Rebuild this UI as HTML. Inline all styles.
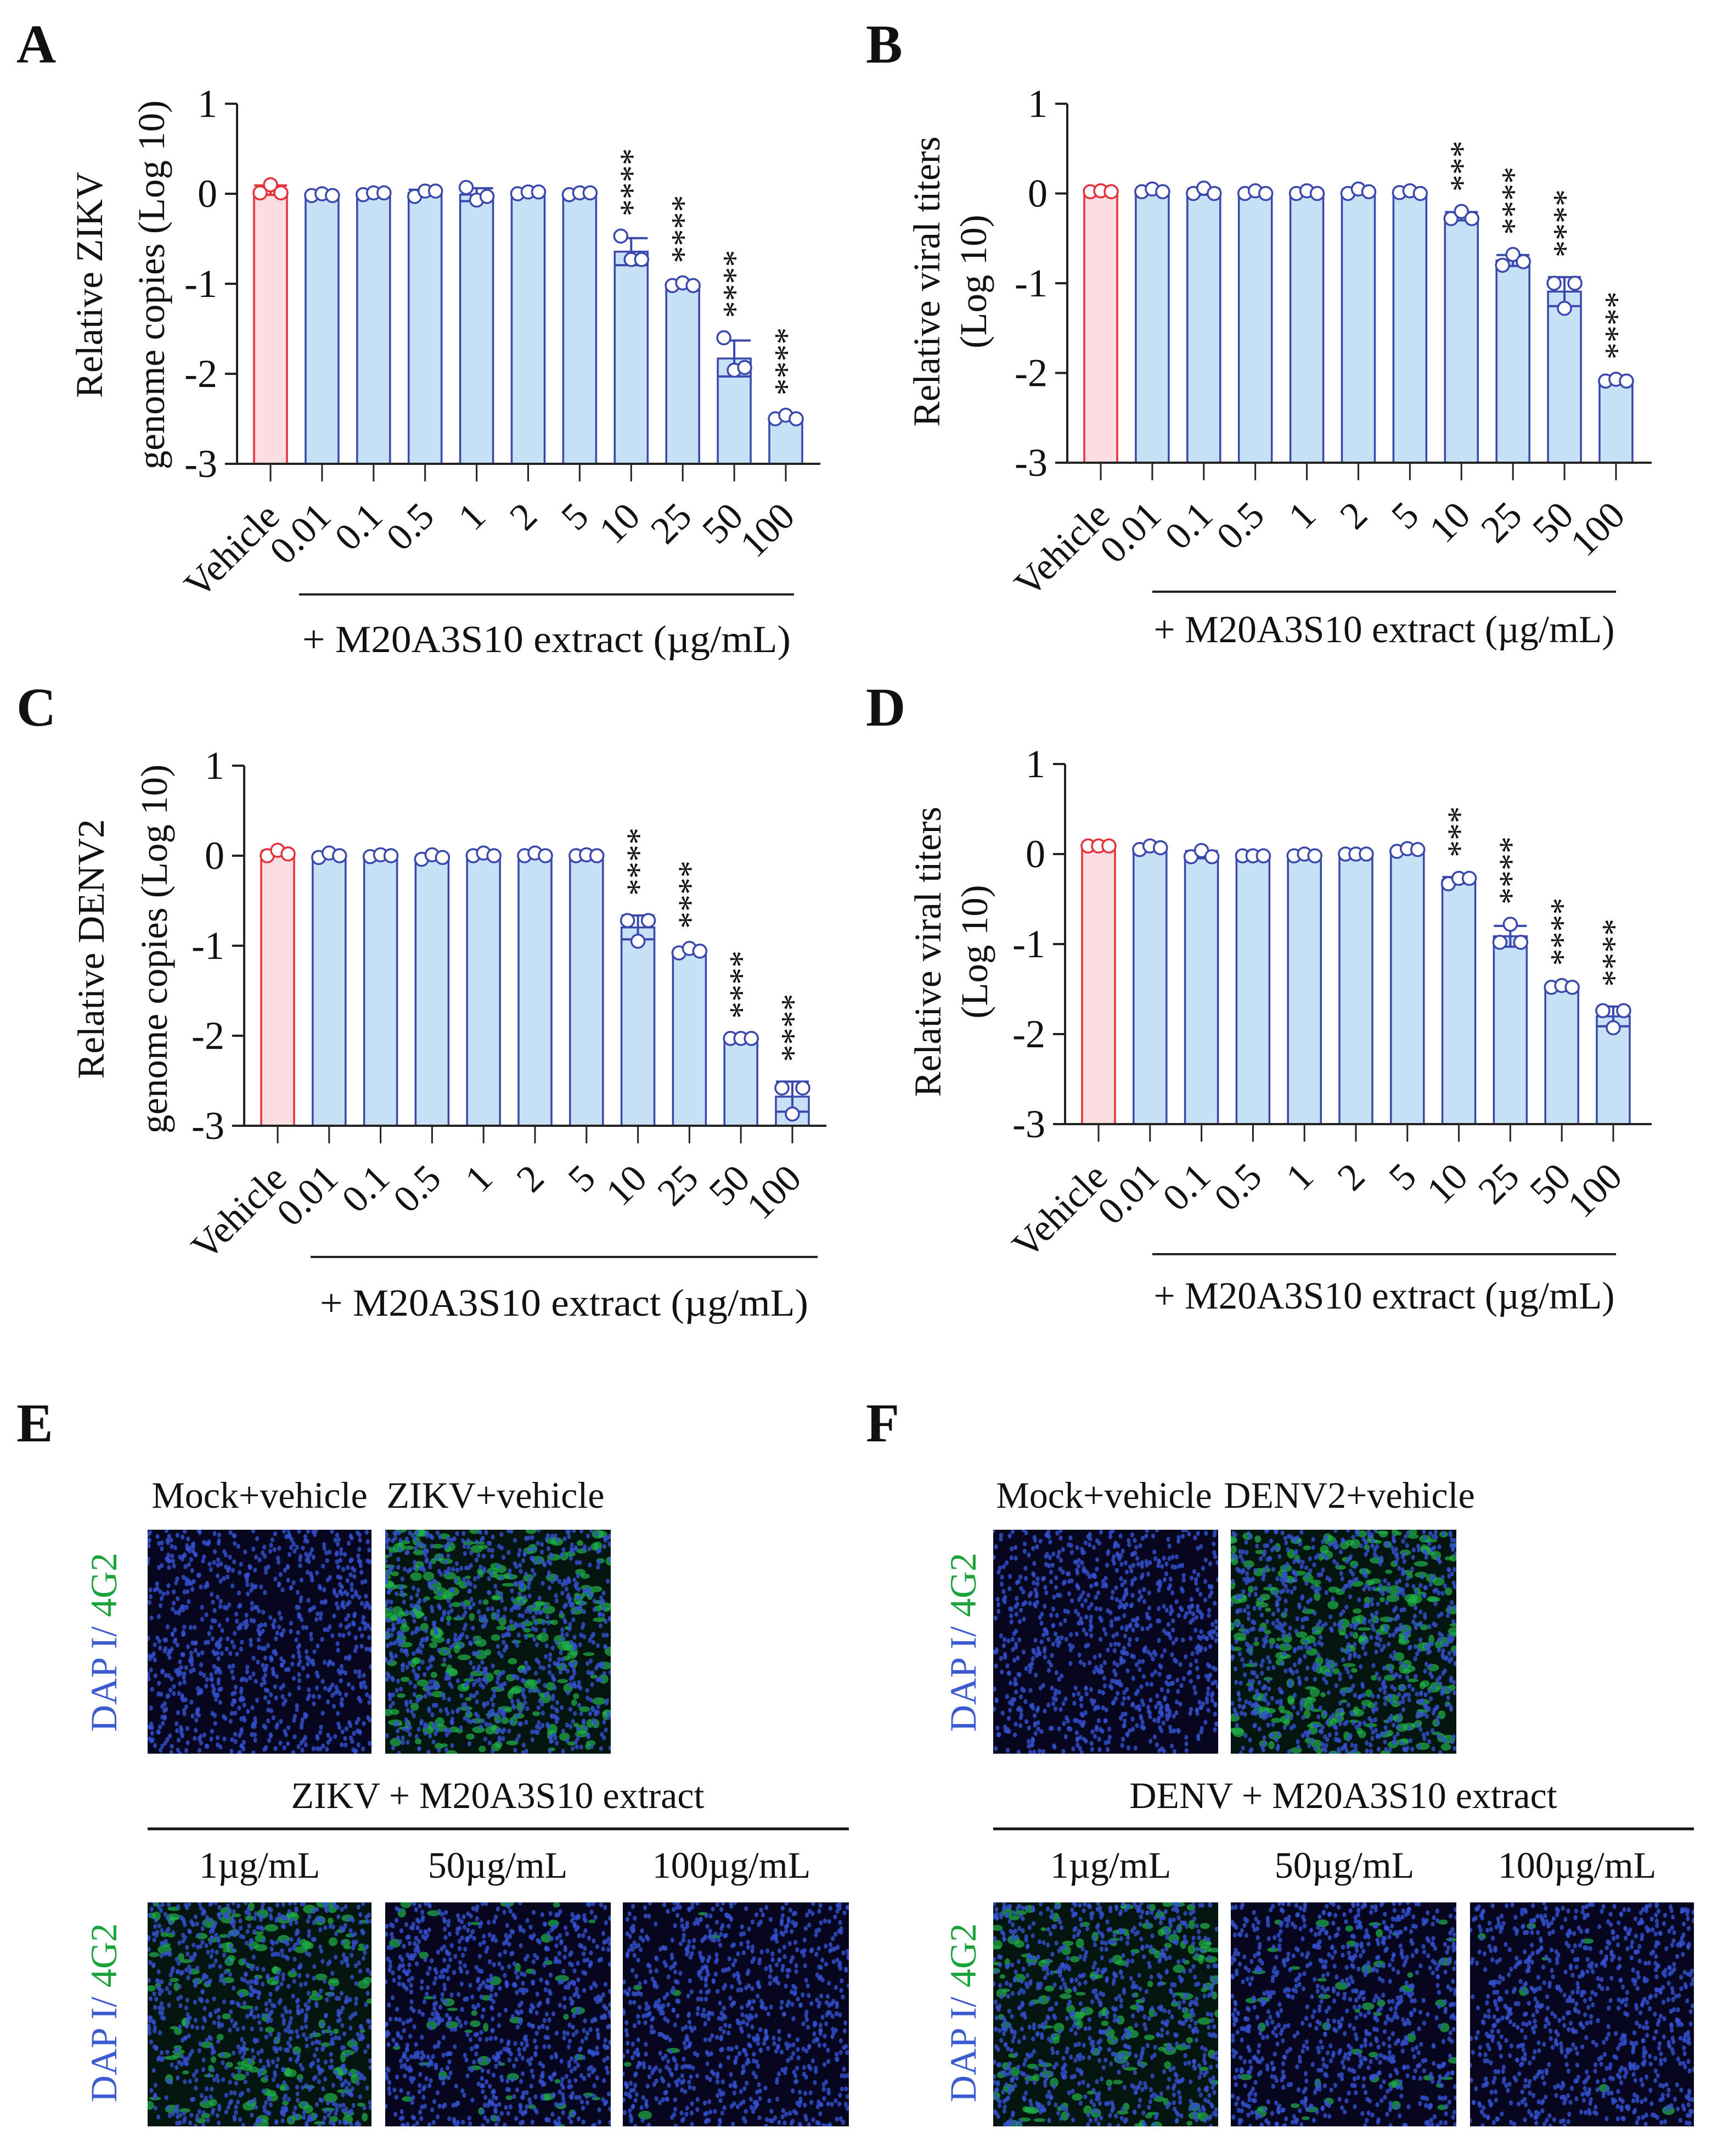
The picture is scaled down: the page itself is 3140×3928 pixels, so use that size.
<!DOCTYPE html>
<html><head><meta charset="utf-8">
<style>
html,body{margin:0;padding:0;background:#fff;}
svg{display:block;}
text{font-family:"Liberation Serif",serif;fill:#111;}
</style></head>
<body>
<svg id="fig" width="3140" height="3928" viewBox="0 0 3140 3928" xmlns="http://www.w3.org/2000/svg">
<text x="30" y="114" font-size="100" font-weight="bold">A</text>
<text x="1578" y="114" font-size="100" font-weight="bold">B</text>
<text x="30" y="1322" font-size="100" font-weight="bold">C</text>
<text x="1578" y="1322" font-size="100" font-weight="bold">D</text>
<text x="30" y="2626" font-size="100" font-weight="bold">E</text>
<text x="1578" y="2626" font-size="100" font-weight="bold">F</text>
<g id="charts"></g>
<g id="micro"></g>
</svg>
<script>
const categories = ["Vehicle","0.01","0.1","0.5","1","2","5","10","25","50","100"];
const yTicks = [1,0,-1,-2,-3];
const ptsA = [[0.01,0.1,0.01],[-0.02,0.0,-0.02],[-0.01,0.01,0.01],[-0.03,0.03,0.03],[0.07,-0.07,-0.03],[0.0,0.02,0.02],[-0.01,0.01,0.01],[-0.47,-0.73,-0.73],[-1.02,-0.99,-1.02],[-1.6,-1.96,-1.93],[-2.5,-2.46,-2.5]];
const ptsB = [[0.02,0.03,0.02],[0.02,0.05,0.02],[0.0,0.06,0.0],[0.0,0.03,0.0],[0.0,0.03,0.0],[0.0,0.05,0.02],[0.01,0.03,0.0],[-0.28,-0.2,-0.28],[-0.8,-0.68,-0.76],[-1.0,-1.28,-1.0],[-2.09,-2.07,-2.09]];
const ptsC = [[0.0,0.06,0.02],[-0.02,0.03,0.0],[-0.01,0.01,0.0],[-0.04,0.01,-0.02],[0.0,0.03,0.0],[0.0,0.03,0.0],[0.0,0.01,0.0],[-0.72,-0.95,-0.72],[-1.08,-1.03,-1.06],[-2.03,-2.03,-2.03],[-2.58,-2.87,-2.58]];
const ptsD = [[0.09,0.09,0.09],[0.05,0.09,0.07],[-0.03,0.04,-0.03],[-0.02,-0.02,-0.02],[-0.02,0.0,-0.02],[0.0,0.0,0.0],[0.03,0.06,0.05],[-0.33,-0.27,-0.27],[-0.98,-0.78,-0.98],[-1.48,-1.46,-1.48],[-1.74,-1.93,-1.74]];
const starsA = ["","","","","","","","****","****","****","****"];
const starsB = ["","","","","","","","***","****","****","****"];
const starsC = ["","","","","","","","****","****","****","****"];
const starsD = ["","","","","","","","***","****","****","****"];
const titlesA = ["Relative ZIKV","genome copies (Log 10)"];
const titlesB = ["Relative viral titers","(Log 10)"];
const titlesC = ["Relative DENV2","genome copies (Log 10)"];
const titlesD = ["Relative viral titers","(Log 10)"];
const bracketLabel = "+ M20A3S10 extract (\u00b5g/mL)";

const NS="http://www.w3.org/2000/svg";
function mk(tag, attrs, parent){const e=document.createElementNS(NS,tag);for(const k in attrs)e.setAttribute(k,attrs[k]);parent.appendChild(e);return e;}

function chart(id, pts, stars, titles, L){
  const g=mk('g',{},document.getElementById('charts'));
  
  
  const yMin=-3,yMax=1;
  const yS=v=>L.yBot-(v-yMin)/(yMax-yMin)*(L.yBot-L.yTop);
  const xS=i=>L.x0+i*L.dx;
  const ya=mk('line',{x1:L.ax,y1:L.yTop,x2:L.ax,y2:L.yBot,stroke:'#222','stroke-width':4},g);
  
  
  yTicks.forEach(t=>{
    mk('line',{x1:L.ax-22,y1:yS(t),x2:L.ax,y2:yS(t),stroke:'#222','stroke-width':4},g);
    const tl=mk('text',{x:L.ax-36,y:yS(t)+24,'font-size':72,'text-anchor':'end'},g);
    tl.textContent=String(t);
    
    
  });
  titles.forEach((s,k)=>{
    const x=L.tx[k], y=L.ty;
    const t=mk('text',{x:x+24,y:y,'font-size':69,'text-anchor':'middle',transform:`rotate(-90 ${x+24} ${y})`},g);
    t.textContent=s;
    
    
  });
  categories.forEach((c,i)=>{
    const p=pts[i];
    const mean=(p[0]+p[1]+p[2])/3;
    const sd=Math.sqrt(p.reduce((a,v)=>a+(v-mean)*(v-mean),0)/2);
    const cx=xS(i);
    const red=i===0;
    const col=red?'#e8303a':'#3a47ad';
    const y0=yS(mean);
    const b=mk('rect',{x:cx-30,y:y0,width:60,height:L.yBot-y0,fill:red?'#fbdde2':'#c6e1f6',stroke:col,'stroke-width':3.5},g);
    
    
    if(sd>0.004){
      const e=mk('path',{d:`M${cx} ${yS(mean+sd)}V${yS(mean-sd)}M${cx-30} ${yS(mean+sd)}H${cx+30}M${cx-30} ${yS(mean-sd)}H${cx+30}`,stroke:col,'stroke-width':4,fill:'none'},g);
      
      
    }
    const offs=[-19,0,19];
    p.forEach((v,k)=>{
      const pc=mk('circle',{cx:cx+offs[k],cy:yS(v),r:12,fill:'#fff',stroke:col,'stroke-width':3.5},g);
      
      
    });
    mk('line',{x1:cx,y1:L.yBot,x2:cx,y2:L.yBot+32,stroke:'#222','stroke-width':3},g);
    const ax=cx+20, ay=L.yBot+100;
    const xl=mk('text',{x:ax,y:ay,'font-size':70,'text-anchor':'end',transform:`rotate(-45 ${ax} ${ay})`},g);
    xl.textContent=c;
    
    
    if(stars[i]){
      const top=Math.min(yS(Math.max(...p)),yS(mean+sd))-14-22;
      const sx=cx+22;
      const st=mk('text',{x:sx,y:top,'font-size':62,'text-anchor':'start',transform:`rotate(-90 ${sx} ${top})`},g);
      st.textContent=stars[i];
      
      
    }
  });
  const xa=mk('line',{x1:L.ax-22,y1:L.yBot,x2:L.xEnd,y2:L.yBot,stroke:'#222','stroke-width':4},g);
  
  
  const br=mk('line',{x1:L.bx1,y1:L.by,x2:L.bx2,y2:L.by,stroke:'#222','stroke-width':4},g);
  
  
  const bt=mk('text',{x:(L.bx1+L.bx2)/2,y:L.tb,'font-size':70,'text-anchor':'middle',textLength:L.tl,lengthAdjust:'spacingAndGlyphs'},g);
  bt.textContent=bracketLabel;
  
  
}
chart('a',ptsA,starsA,titlesA,{ax:432,yTop:189,yBot:845,x0:493,dx:93.9,xEnd:1495,bx1:545,bx2:1447,by:1083,tb:1188,tl:890,tx:[162,275],ty:519});
chart('b',ptsB,starsB,titlesB,{ax:1945,yTop:189,yBot:843,x0:2006,dx:93.9,xEnd:3010,bx1:2100,bx2:2945,by:1078,tb:1170,tl:840,tx:[1688,1773],ty:513});
chart('c',ptsC,starsC,titlesC,{ax:445,yTop:1395,yBot:2051,x0:506,dx:93.8,xEnd:1506,bx1:566,bx2:1490,by:2290,tb:2397,tl:890,tx:[165,280],ty:1729});
chart('d',ptsD,starsD,titlesD,{ax:1941,yTop:1392,yBot:2048,x0:2002,dx:93.8,xEnd:3010,bx1:2100,bx2:2945,by:2285,tb:2384,tl:840,tx:[1690,1775],ty:1734});

function rng(seed){return function(){seed|=0;seed=seed+0x6D2B79F5|0;let t=Math.imul(seed^seed>>>15,1|seed);t=t+Math.imul(t^t>>>7,61|t)^t;return((t^t>>>14)>>>0)/4294967296;};}
const M=document.getElementById('micro');
function micro(name,x,y,w,h,green,seed){
  const g=mk('g',{},M);
  
  
  const cid='cl'+seed;
  const cp=mk('clipPath',{id:cid},g);mk('rect',{x:x,y:y,width:w,height:h},cp);
  const inner=mk('g',{'clip-path':`url(#${cid})`},g);
  mk('rect',{x:x,y:y,width:w,height:h,fill:green>150?'#04140e':'#06071e'},inner);
  const r=rng(seed);
  for(let i=0;i<green;i++){
    mk('ellipse',{cx:x+r()*w,cy:y+r()*h,rx:5+r()*8,ry:3+r()*6,fill:'#1fb04a',opacity:0.7},inner);
  }
  for(let i=0;i<900;i++){
    mk('ellipse',{cx:x+r()*w,cy:y+r()*h,rx:3.6,ry:4.6,fill:'#3550cf',opacity:0.8},inner);
  }
}
const rowY=[2787,3466], H=408;
micro('image-mock-zikv',269,rowY[0],408,H,0,11);
micro('image-zikv-vehicle',702,rowY[0],411,H,280,12);
micro('image-zikv-1ug',269,rowY[1],408,H,170,13);
micro('image-zikv-50ug',702,rowY[1],411,H,50,14);
micro('image-zikv-100ug',1135,rowY[1],412,H,7,15);
micro('image-mock-denv',1810,rowY[0],410,H,0,21);
micro('image-denv-vehicle',2243,rowY[0],411,H,280,22);
micro('image-denv-1ug',1810,rowY[1],410,H,170,23);
micro('image-denv-50ug',2243,rowY[1],411,H,50,24);
micro('image-denv-100ug',2679,rowY[1],408,H,7,25);
</script>
<script>
(function(){
const svg=document.getElementById('fig');
function t(x,y,s,name){const e=document.createElementNS("http://www.w3.org/2000/svg",'text');e.setAttribute('x',x);e.setAttribute('y',y);e.setAttribute('font-size',68);e.setAttribute('text-anchor','middle');e.textContent=s;


svg.appendChild(e);return e;}
t(473,2747,'Mock+vehicle','label-mock-vehicle-e');
t(903,2747,'ZIKV+vehicle','label-zikv-vehicle');
t(907,3294,'ZIKV + M20A3S10 extract','label-zikv-extract');
t(473,3421,'1\u00b5g/mL','label-1ug-e');
t(907,3421,'50\u00b5g/mL','label-50ug-e');
t(1333,3421,'100\u00b5g/mL','label-100ug-e');
t(2012,2747,'Mock+vehicle','label-mock-vehicle-f');
t(2459,2747,'DENV2+vehicle','label-denv2-vehicle');
t(2448,3294,'DENV + M20A3S10 extract','label-denv-extract');
t(2024,3421,'1\u00b5g/mL','label-1ug-f');
t(2450,3421,'50\u00b5g/mL','label-50ug-f');
t(2874,3421,'100\u00b5g/mL','label-100ug-f');
function line(x1,x2,name){const l=document.createElementNS("http://www.w3.org/2000/svg",'line');l.setAttribute('x1',x1);l.setAttribute('x2',x2);l.setAttribute('y1',3332);l.setAttribute('y2',3332);l.setAttribute('stroke','#111');l.setAttribute('stroke-width',5);


svg.appendChild(l);}
line(269,1547,'divider-e');line(1810,3087,'divider-f');
function dapi(x,y,name){const e=document.createElementNS("http://www.w3.org/2000/svg",'text');e.setAttribute('x',x);e.setAttribute('y',y);e.setAttribute('font-size',68);e.setAttribute('text-anchor','middle');e.setAttribute('transform',`rotate(-90 ${x} ${y})`);
e.innerHTML='<tspan fill="#3d5bd0">DAP I/ </tspan><tspan fill="#1aa33a">4G2</tspan>';


svg.appendChild(e);}
dapi(212,2992,'stain-label-e-top');dapi(212,3667,'stain-label-e-bottom');
dapi(1778,2992,'stain-label-f-top');dapi(1778,3667,'stain-label-f-bottom');
})();
</script>
</body></html>
